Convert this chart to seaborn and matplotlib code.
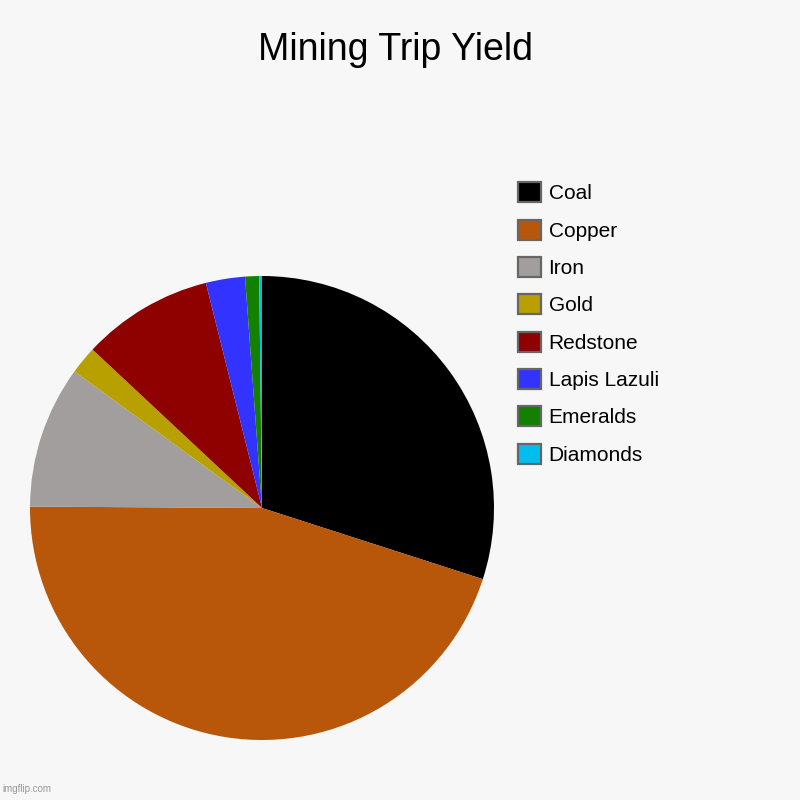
import matplotlib.pyplot as plt
import matplotlib.patches as mpatches
import seaborn as sns

## datos del grafico
minerals = ['Coal', 'Copper', 'Iron', 'Gold', 'Redstone', 'Lapis Lazuli', 'Emeralds', 'Diamonds']
counts = [154, 232, 51, 10, 47, 14, 5, 1]
colors = ['#000000', '#b8570a', '#a29e9d', '#b8a000', '#8f0000', '#3333ff', '#138000', '#00bfef']

sns.set_theme(style='white')
plt.rcParams['font.family'] = ['Liberation Sans', 'DejaVu Sans']
plt.rcParams['text.color'] = '#000000'
palette = sns.color_palette(colors)

fig = plt.figure(figsize=(8, 8), dpi=100, facecolor='#f7f7f7')
ax = fig.add_axes([0.0375, 0.075, 0.58, 0.58])
ax.set_facecolor('#f7f7f7')

## grafica de pastel, sentido horario desde arriba
ax.pie(counts, colors=palette, startangle=90, counterclock=False,
       wedgeprops=dict(linewidth=0), radius=1)
ax.set_xlim(-1, 1)
ax.set_ylim(-1, 1)
ax.set_aspect('equal')
ax.axis('off')

fig.text(0.494, 0.937, 'Mining Trip Yield', ha='center', va='center', fontsize=27, color='#000000')

## leyenda
handles = [mpatches.Patch(facecolor=c, edgecolor='#666666', linewidth=1.6, label=m)
           for m, c in zip(minerals, palette)]
leg = fig.legend(handles=handles, loc='upper left', bbox_to_anchor=(0.648, 0.772),
                 frameon=False, fontsize=15, handlelength=1.1, handleheight=1.1,
                 labelspacing=0.78, handletextpad=0.35, borderaxespad=0, borderpad=0)
for t in leg.get_texts():
    t.set_color('#000000')

fig.text(0.003, 0.008, 'imgflip.com', fontsize=7, color='#999999', ha='left', va='bottom')

fig.savefig('out.png', dpi=100, facecolor='#f7f7f7')
